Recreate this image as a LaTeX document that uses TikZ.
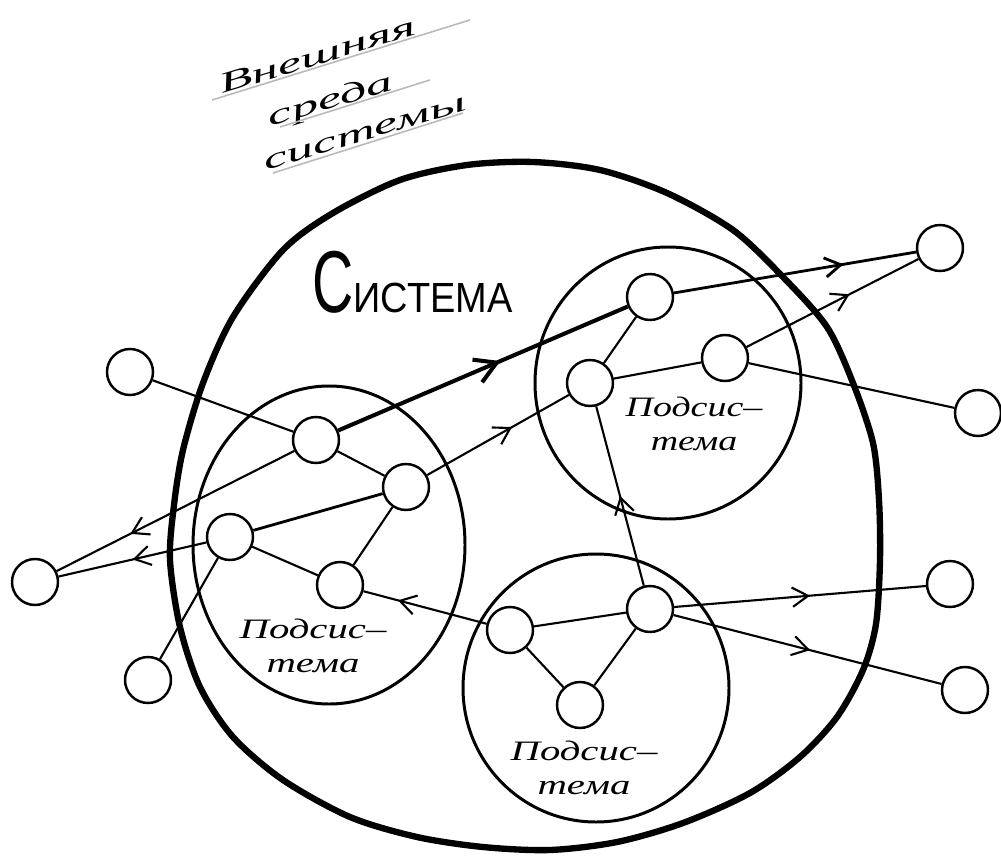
\documentclass[tikz,border=0pt]{standalone}
\usepackage{fontspec}
\usepackage{graphicx}
\setmainfont{Liberation Serif}
\newfontfamily\capsfont{Liberation Sans}
\usetikzlibrary{arrows.meta,decorations.markings}
\newcommand{\stretchx}[2]{\scalebox{#1}[1]{#2}}

\begin{document}
\begin{tikzpicture}[x=0.02cm,y=-0.02cm,
    elem/.style={draw,circle,line width=1.4pt,fill=white,minimum size=0.92cm,inner sep=0pt},
    sysline/.style={line width=3.6pt},
    subline/.style={line width=1.7pt},
    link/.style={line width=1.2pt},
    flow/.style={link,postaction={decorate},
        decoration={markings,mark=at position #1 with {\arrow{Straight Barb[length=9pt,width=11pt]}}}},
    mainflow/.style={line width=2.3pt,postaction={decorate},
        decoration={markings,mark=at position #1 with {\arrow{Straight Barb[length=12pt,width=14pt]}}}},
    sublabel/.style={font=\fontsize{16}{19}\selectfont\itshape,align=center,inner sep=0pt},
    envlabel/.style={font=\fontsize{16}{16}\selectfont\itshape,rotate=17,anchor=base,inner sep=0pt},
    underline/.style={gray!55,line width=0.9pt}]

    \useasboundingbox (0,0) rectangle (1001,865);

    % system and subsystems
    \draw[sysline] plot[smooth cycle] coordinates {(533,162) (600,170) (667,193) (733,230)
        (783,277) (827,327) (853,383) (873,443) (879,500) (880,560) (876,624) (863,670)
        (837,717) (800,757) (750,793) (683,823) (617,842) (550,850) (483,847) (417,837)
        (350,817) (283,780) (233,737) (200,687) (180,627) (170,560) (174,505) (183,450)
        (203,383) (233,317) (283,250) (333,213) (400,180) (467,165)};
    \draw[subline] (329,545) ellipse (136 and 159);
    \draw[subline] (668,383) ellipse (133 and 136);
    \draw[subline] (596,688) ellipse (133 and 134);

    % elements
    \node[elem] (L1) at (130,372) {};
    \node[elem] (L2) at (35,582) {};
    \node[elem] (L3) at (148,680) {};
    \node[elem] (R1) at (940,248) {};
    \node[elem] (R2) at (978,413) {};
    \node[elem] (R3) at (950,584) {};
    \node[elem] (R4) at (965,690) {};
    \node[elem] (A1) at (316,440) {};
    \node[elem] (A2) at (406,487) {};
    \node[elem] (A3) at (230,537) {};
    \node[elem] (A4) at (340,585) {};
    \node[elem] (B1) at (650,297) {};
    \node[elem] (B2) at (590,383) {};
    \node[elem] (B3) at (725,358) {};
    \node[elem] (C1) at (510,630) {};
    \node[elem] (C2) at (650,609) {};
    \node[elem] (C3) at (580,705) {};

    % connections
    \draw[link] (L1) -- (A1);
    \draw[mainflow=0.56] (A1) -- (B1);
    \draw[flow=0.7,line width=1.6pt] (B1) -- (R1);
    \draw[flow=0.6] (B3) -- (R1);
    \draw[link] (B3) -- (R2);
    \draw[link] (B2) -- (B1);
    \draw[link] (B2) -- (B3);
    \draw[flow=0.6] (A2) -- (B2);
    \draw[link] (A1) -- (A2);
    \draw[link,line width=1.6pt] (A2) -- (A3);
    \draw[link] (A2) -- (A4);
    \draw[link] (A3) -- (A4);
    \draw[flow=0.69] (A1) -- (L2);
    \draw[flow=0.5] (A3) -- (L2);
    \draw[link] (A3) -- (L3);
    \draw[flow=0.72] (C1) -- (A4);
    \draw[link] (C1) -- (C2);
    \draw[link] (C1) -- (C3);
    \draw[link] (C2) -- (C3);
    \draw[flow=0.5] (C2) -- (B2);
    \draw[flow=0.54] (C2) -- (R3);
    \draw[flow=0.51] (C2) -- (R4);

    % labels
    \node[anchor=base west,inner sep=0pt] (syslabel) at (312,312)
        {\capsfont\fontsize{50}{50}\selectfont\stretchx{0.65}{С}\fontsize{24}{24}\selectfont\stretchx{0.9}{ИСТЕМА}};
    \node[sublabel] (labA) at (313,646) {\stretchx{1.45}{Подсис–}\\\stretchx{1.45}{тема}};
    \node[sublabel] (labB) at (694,424) {\stretchx{1.35}{Подсис–}\\\stretchx{1.35}{тема}};
    \node[sublabel] (labC) at (584,768) {\stretchx{1.45}{Подсис–}\\\stretchx{1.45}{тема}};

    % environment
    \node[envlabel] (env1) at (320,64) {\stretchx{1.95}{Внешняя}};
    \node[envlabel] (env2) at (333,108) {\stretchx{1.95}{среда}};
    \node[envlabel] (env3) at (367,140) {\stretchx{1.95}{системы}};
    \coordinate (u1a) at (212,100); \coordinate (u1b) at (470,20);
    \coordinate (u2a) at (280,127); \coordinate (u2b) at (430,80);
    \coordinate (u3a) at (273,173); \coordinate (u3b) at (463,113);
    \draw[underline] (u1a) -- (u1b);
    \draw[underline] (u2a) -- (u2b);
    \draw[underline] (u3a) -- (u3b);
\end{tikzpicture}
\end{document}
